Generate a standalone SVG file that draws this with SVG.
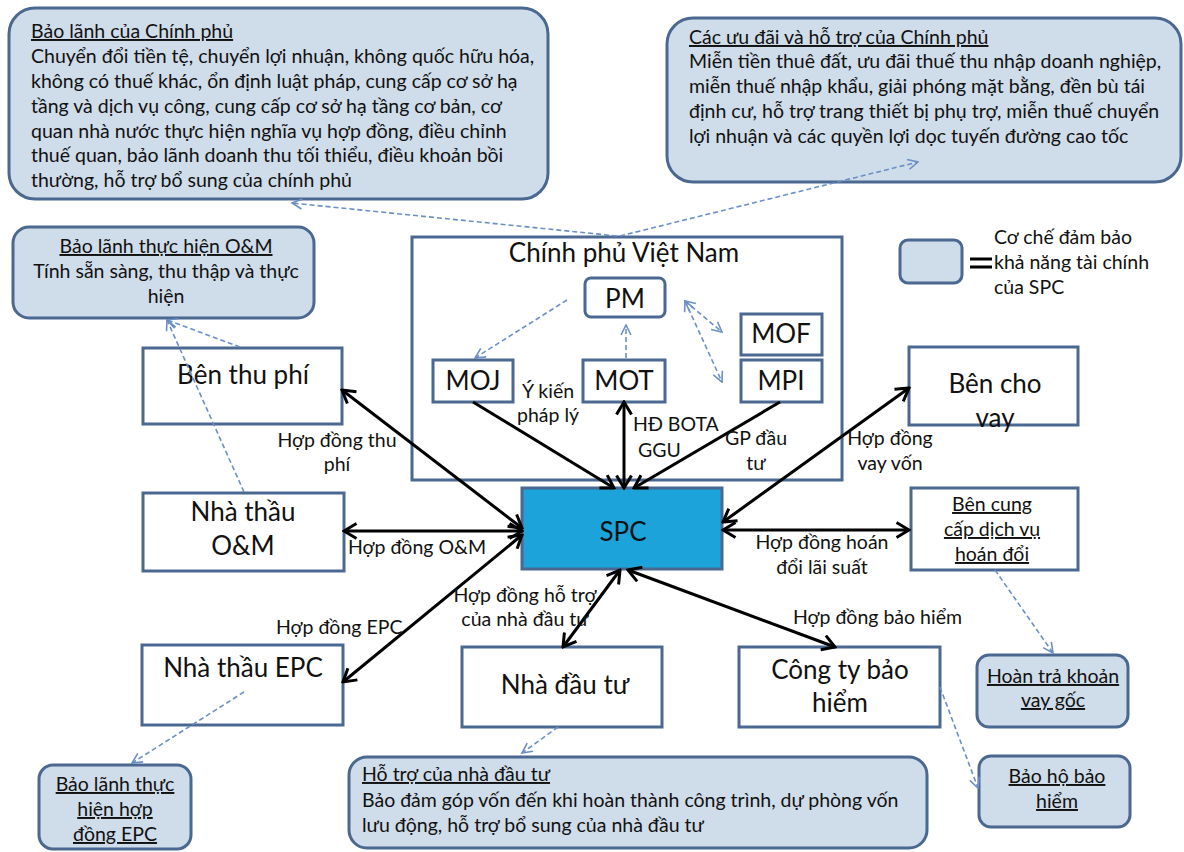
<svg xmlns="http://www.w3.org/2000/svg" width="1184" height="852" viewBox="0 0 1184 852">
  <defs>
    <style>
      .box { fill: #ffffff; stroke: #4a6890; stroke-width: 3; }
      .spc { fill: #1ba3da; stroke: #4a6890; stroke-width: 3; }
      .call { fill: #cfdce9; stroke: #4a6890; stroke-width: 3; }
      text { font-family: Lato, "Liberation Sans", "Noto Sans", sans-serif; fill: #111111; }
      .lg { font-size: 26px; }
      .sm { font-size: 19.5px; }
      .mid { text-anchor: middle; }
      .ul { text-decoration: underline; }
      .solid { stroke: #000000; stroke-width: 3; fill: none; }
      .dash { stroke: #6b8fc6; stroke-width: 1.6; stroke-dasharray: 5 3; fill: none; }
    </style>
    <marker id="arrowBlack" markerUnits="userSpaceOnUse" viewBox="0 0 16 18" refX="14" refY="9" markerWidth="16" markerHeight="18" orient="auto-start-reverse">
      <path d="M1.5,1.5 L14,9 L1.5,16.5" fill="none" stroke="#000000" stroke-width="3"/>
    </marker>
    <marker id="arrowDash" markerUnits="userSpaceOnUse" viewBox="0 0 12 12" refX="11" refY="6" markerWidth="12" markerHeight="12" orient="auto-start-reverse">
      <path d="M1,1 L11,6 L1,11" fill="none" stroke="#6b8fc6" stroke-width="1.6"/>
    </marker>
  </defs>

  <rect width="1184" height="852" fill="#ffffff"/>

  <!-- Government guarantee callout -->
  <g id="bao-lanh-chinh-phu">
    <rect class="call" x="9" y="8" width="539" height="191" rx="26"/>
    <text class="sm" x="31" y="38"><tspan class="ul">Bảo lãnh của Chính phủ</tspan></text>
    <text class="sm" x="31" y="63">Chuyển đổi tiền tệ, chuyển lợi nhuận, không quốc hữu hóa,</text>
    <text class="sm" x="31" y="88">không có thuế khác, ổn định luật pháp, cung cấp cơ sở hạ</text>
    <text class="sm" x="31" y="113">tầng và dịch vụ công, cung cấp cơ sở hạ tầng cơ bản, cơ</text>
    <text class="sm" x="31" y="138">quan nhà nước thực hiện nghĩa vụ hợp đồng, điều chỉnh</text>
    <text class="sm" x="31" y="162">thuế quan, bảo lãnh doanh thu tối thiểu, điều khoản bồi</text>
    <text class="sm" x="31" y="187">thường, hỗ trợ bổ sung của chính phủ</text>
  </g>

  <!-- Government incentives callout -->
  <g id="uu-dai-chinh-phu">
    <rect class="call" x="667" y="18" width="514" height="164" rx="26"/>
    <text class="sm" x="689" y="44"><tspan class="ul">Các ưu đãi và hỗ trợ của Chính phủ</tspan></text>
    <text class="sm" x="689" y="68">Miễn tiền thuê đất, ưu đãi thuế thu nhập doanh nghiệp,</text>
    <text class="sm" x="689" y="93">miễn thuế nhập khẩu, giải phóng mặt bằng, đền bù tái</text>
    <text class="sm" x="689" y="118">định cư, hỗ trợ trang thiết bị phụ trợ, miễn thuế chuyển</text>
    <text class="sm" x="689" y="143">lợi nhuận và các quyền lợi dọc tuyến đường cao tốc</text>
  </g>

  <!-- O&M performance guarantee callout -->
  <g id="bao-lanh-om">
    <rect class="call" x="13" y="227" width="301" height="91" rx="16"/>
    <text class="sm mid" x="166" y="253"><tspan class="ul">Bảo lãnh thực hiện O&amp;M</tspan></text>
    <text class="sm mid" x="166" y="278">Tính sẵn sàng, thu thập và thực</text>
    <text class="sm mid" x="166" y="303">hiện</text>
  </g>

  <!-- Legend -->
  <g id="chu-giai">
    <rect class="call" x="900" y="240" width="62" height="43" rx="8"/>
    <path d="M970,259 H992 M970,267 H992" stroke="#000000" stroke-width="3"/>
    <text class="sm" x="994" y="244">Cơ chế đảm bảo</text>
    <text class="sm" x="994" y="269">khả năng tài chính</text>
    <text class="sm" x="994" y="294">của SPC</text>
  </g>

  <!-- Government of Vietnam with ministries -->
  <g id="chinh-phu">
    <rect class="box" x="412" y="237" width="430" height="243"/>
    <text class="lg mid" x="624" y="262">Chính phủ Việt Nam</text>
  </g>
  <g id="pm">
    <rect class="box" x="585" y="278" width="80" height="39" rx="6"/>
    <text class="lg mid" x="625" y="308">PM</text>
  </g>
  <g id="mof">
    <rect class="box" x="741" y="314" width="81" height="41"/>
    <text class="lg mid" x="781" y="343">MOF</text>
  </g>
  <g id="mpi">
    <rect class="box" x="741" y="360" width="81" height="42"/>
    <text class="lg mid" x="781" y="390">MPI</text>
  </g>
  <g id="moj">
    <rect class="box" x="433" y="360" width="80" height="42"/>
    <text class="lg mid" x="473" y="390">MOJ</text>
  </g>
  <g id="mot">
    <rect class="box" x="583" y="360" width="82" height="42"/>
    <text class="lg mid" x="624" y="390">MOT</text>
  </g>

  <!-- Parties around the SPC -->
  <g id="ben-thu-phi">
    <rect class="box" x="143" y="348" width="199" height="76"/>
    <text class="lg mid" x="243" y="384">Bên thu phí</text>
  </g>
  <g id="nha-thau-om">
    <rect class="box" x="143" y="493" width="201" height="78"/>
    <text class="lg mid" x="243" y="521">Nhà thầu</text>
    <text class="lg mid" x="243" y="555">O&amp;M</text>
  </g>
  <g id="nha-thau-epc">
    <rect class="box" x="142" y="645" width="201" height="80"/>
    <text class="lg mid" x="243" y="677">Nhà thầu EPC</text>
  </g>
  <g id="spc">
    <rect class="spc" x="522" y="488" width="200" height="81"/>
    <text class="lg mid" x="623" y="541">SPC</text>
  </g>
  <g id="nha-dau-tu">
    <rect class="box" x="462" y="647" width="200" height="80"/>
    <text class="lg mid" x="565" y="694">Nhà đầu tư</text>
  </g>
  <g id="cong-ty-bao-hiem">
    <rect class="box" x="739" y="647" width="201" height="80"/>
    <text class="lg mid" x="840" y="679">Công ty bảo</text>
    <text class="lg mid" x="840" y="712">hiểm</text>
  </g>
  <g id="ben-cho-vay">
    <rect class="box" x="909" y="347" width="169" height="78"/>
    <text class="lg mid" x="995" y="393">Bên cho</text>
    <text class="lg mid" x="995" y="427">vay</text>
  </g>
  <g id="ben-cung-cap-hoan-doi">
    <rect class="box" x="911" y="488" width="167" height="82"/>
    <text class="sm mid ul" x="992" y="511">Bên cung</text>
    <text class="sm mid ul" x="992" y="536">cấp dịch vụ</text>
    <text class="sm mid ul" x="992" y="561">hoán đổi</text>
  </g>

  <!-- Support callouts at the bottom -->
  <g id="bao-lanh-epc">
    <rect class="call" x="39" y="765" width="152" height="84" rx="14"/>
    <text class="sm mid ul" x="115" y="791">Bảo lãnh thực</text>
    <text class="sm mid ul" x="115" y="816">hiện hợp</text>
    <text class="sm mid ul" x="115" y="841">đồng EPC</text>
  </g>
  <g id="ho-tro-nha-dau-tu">
    <rect class="call" x="349" y="757" width="578" height="91" rx="18"/>
    <text class="sm" x="362" y="781"><tspan class="ul">Hỗ trợ của nhà đầu tư</tspan></text>
    <text class="sm" x="362" y="807">Bảo đảm góp vốn đến khi hoàn thành công trình, dự phòng vốn</text>
    <text class="sm" x="362" y="832">lưu động, hỗ trợ bổ sung của nhà đầu tư</text>
  </g>
  <g id="hoan-tra-khoan-vay">
    <rect class="call" x="977" y="655" width="151" height="72" rx="12"/>
    <text class="sm mid ul" x="1053" y="683">Hoàn trả khoản</text>
    <text class="sm mid ul" x="1053" y="707">vay gốc</text>
  </g>
  <g id="bao-ho-bao-hiem">
    <rect class="call" x="979" y="756" width="151" height="71" rx="12"/>
    <text class="sm mid ul" x="1057" y="783">Bảo hộ bảo</text>
    <text class="sm mid ul" x="1057" y="808">hiểm</text>
  </g>

  <!-- Connectors -->
  <g id="connectors">
    <!-- contracts -->
    <path class="solid" d="M522,528 L342,390" marker-start="url(#arrowBlack)" marker-end="url(#arrowBlack)"/>
    <path class="solid" d="M522,531 L344,531" marker-start="url(#arrowBlack)" marker-end="url(#arrowBlack)"/>
    <path class="solid" d="M522,535 L343,682" marker-start="url(#arrowBlack)" marker-end="url(#arrowBlack)"/>
    <path class="solid" d="M473,402 L614,488" marker-end="url(#arrowBlack)"/>
    <path class="solid" d="M624,402 L624,488" marker-start="url(#arrowBlack)" marker-end="url(#arrowBlack)"/>
    <path class="solid" d="M780,402 L634,488" marker-end="url(#arrowBlack)"/>
    <path class="solid" d="M723,522 L909,388" marker-start="url(#arrowBlack)" marker-end="url(#arrowBlack)"/>
    <path class="solid" d="M723,530 L909,530" marker-start="url(#arrowBlack)" marker-end="url(#arrowBlack)"/>
    <path class="solid" d="M620,570 L563,647" marker-start="url(#arrowBlack)" marker-end="url(#arrowBlack)"/>
    <path class="solid" d="M628,570 L835,647" marker-start="url(#arrowBlack)" marker-end="url(#arrowBlack)"/>

    <!-- guarantee and support links -->
    <path class="dash" d="M617,236 L292,203" marker-end="url(#arrowDash)"/>
    <path class="dash" d="M620,236 L918,162" marker-end="url(#arrowDash)"/>
    <path class="dash" d="M240,347 L167,320" marker-end="url(#arrowDash)"/>
    <path class="dash" d="M244,492 L167,320" marker-end="url(#arrowDash)"/>
    <path class="dash" d="M567,300 L475,358" marker-end="url(#arrowDash)"/>
    <path class="dash" d="M626,358 L626,325" marker-end="url(#arrowDash)"/>
    <path class="dash" d="M685,301 L722,332" marker-start="url(#arrowDash)" marker-end="url(#arrowDash)"/>
    <path class="dash" d="M685,301 L722,382" marker-start="url(#arrowDash)" marker-end="url(#arrowDash)"/>
    <path class="dash" d="M244,692 L132,763" marker-end="url(#arrowDash)"/>
    <path class="dash" d="M558,727 L522,753" marker-end="url(#arrowDash)"/>
    <path class="dash" d="M995,570 L1053,653" marker-end="url(#arrowDash)"/>
    <path class="dash" d="M940,687 L978,788" marker-end="url(#arrowDash)"/>

    <!-- connector labels -->
    <text class="sm mid" x="548" y="398">Ý kiến</text>
    <text class="sm mid" x="548" y="422">pháp lý</text>
    <text class="sm" x="633" y="431">HĐ BOTA</text>
    <text class="sm" x="638" y="457">GGU</text>
    <text class="sm mid" x="756" y="445">GP đầu</text>
    <text class="sm mid" x="756" y="470">tư</text>
    <text class="sm mid" x="337" y="447">Hợp đồng thu</text>
    <text class="sm mid" x="337" y="471">phí</text>
    <text class="sm mid" x="890" y="445">Hợp đồng</text>
    <text class="sm mid" x="890" y="470">vay vốn</text>
    <text class="sm" x="348" y="554">Hợp đồng O&amp;M</text>
    <text class="sm" x="276" y="634">Hợp đồng EPC</text>
    <text class="sm mid" x="822" y="549">Hợp đồng hoán</text>
    <text class="sm mid" x="822" y="574">đổi lãi suất</text>
    <text class="sm mid" x="525" y="602">Hợp đồng hỗ trợ</text>
    <text class="sm mid" x="525" y="626">của nhà đầu tư</text>
    <text class="sm" x="793" y="624">Hợp đồng bảo hiểm</text>
  </g>
</svg>
